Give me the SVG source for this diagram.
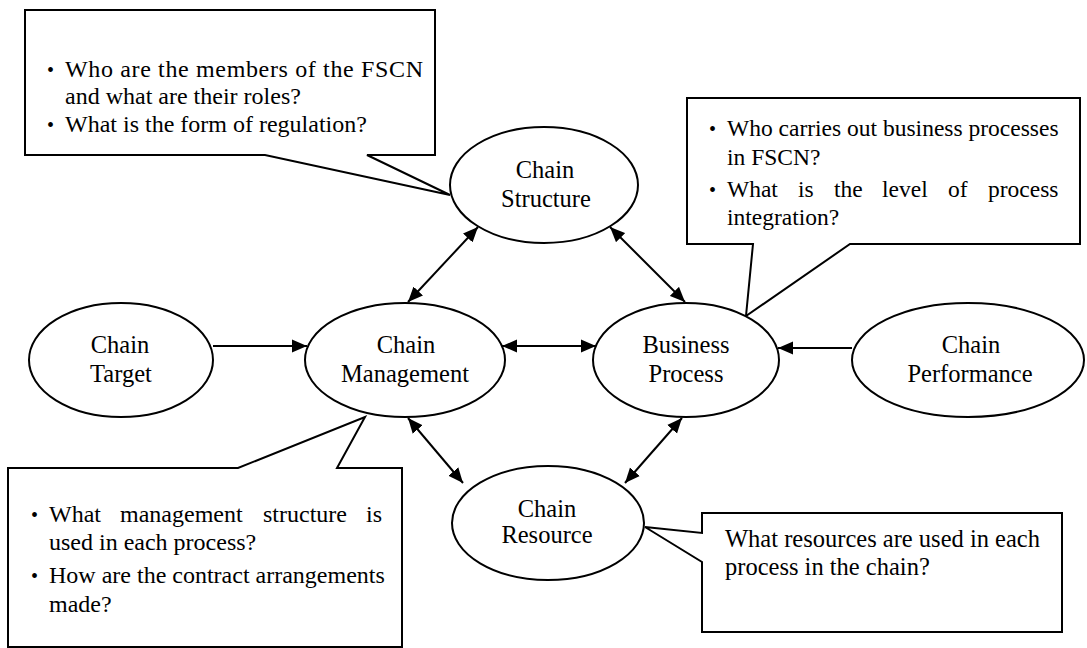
<svg xmlns="http://www.w3.org/2000/svg" width="1087" height="648" viewBox="0 0 1087 648">
<style>
.box{fill:#fff;stroke:#000;stroke-width:2;stroke-linejoin:miter}
.node{fill:#fff;stroke:#000;stroke-width:2}
.t{font-family:"Liberation Serif","Times New Roman",serif;font-size:24px;fill:#000}
.n{font-size:24.5px;text-anchor:middle}
.k2{font-size:23.5px}
.k4{font-size:24.5px}
.b{font-size:20px}
.edge{stroke:#000;stroke-width:2;fill:none}
</style>
<defs>
<marker id="ah" markerUnits="userSpaceOnUse" markerWidth="16" markerHeight="14" refX="15" refY="7" orient="auto-start-reverse">
<path d="M0,0.5 L15,7 L0,13.5 Z" fill="#000"/>
</marker>
</defs>
<g id="callout-structure">
<path class="box" d="M25,10 H435 V155 H367 L450,195 L265,155 H25 Z"/>
<text class="t b" x="47" y="77">•</text>
<text class="t" x="65" y="77" textLength="358" lengthAdjust="spacing">Who are the members of the FSCN</text>
<text class="t" x="65" y="104">and what are their roles?</text>
<text class="t b" x="47" y="132">•</text>
<text class="t" x="65" y="132">What is the form of regulation?</text>
</g>
<g id="callout-process">
<path class="box" d="M687,98 H1080 V244 H850 L746,316 L753,244 H687 Z"/>
<text class="t b" x="709" y="136">•</text>
<text class="t k2" x="727" y="136">Who carries out business processes</text>
<text class="t k2" x="727" y="165">in FSCN?</text>
<text class="t b" x="709" y="197">•</text>
<text class="t k2" y="197"><tspan x="727">What</tspan><tspan x="798">is</tspan><tspan x="834">the</tspan><tspan x="882">level</tspan><tspan x="948">of</tspan><tspan x="988">process</tspan></text>
<text class="t k2" x="727" y="225">integration?</text>
</g>
<g id="callout-management">
<path class="box" d="M8,468 H238 L365,417 L337,468 H402 V647 H8 Z"/>
<text class="t b" x="31" y="522">•</text>
<text class="t" y="522"><tspan x="49">What</tspan><tspan x="120">management</tspan><tspan x="263">structure</tspan><tspan x="366">is</tspan></text>
<text class="t" x="49" y="550">used in each process?</text>
<text class="t b" x="31" y="583">•</text>
<text class="t" x="49" y="583">How are the contract arrangements</text>
<text class="t" x="49" y="612">made?</text>
</g>
<g id="callout-resource">
<path class="box" d="M702,513 H1062 V632 H702 V562 L645,527 L702,533 Z"/>
<text class="t k4" x="725" y="547">What resources are used in each</text>
<text class="t k4" x="725" y="575">process in the chain?</text>
</g>
<g id="connectors">
<line class="edge" x1="478" y1="227" x2="408" y2="302" marker-start="url(#ah)" marker-end="url(#ah)"/>
<line class="edge" x1="610" y1="227" x2="685" y2="302" marker-start="url(#ah)" marker-end="url(#ah)"/>
<line class="edge" x1="502" y1="346" x2="596" y2="346" marker-start="url(#ah)" marker-end="url(#ah)"/>
<line class="edge" x1="213" y1="346" x2="307" y2="346" marker-end="url(#ah)"/>
<line class="edge" x1="852" y1="348" x2="778" y2="348" marker-end="url(#ah)"/>
<line class="edge" x1="408" y1="418" x2="463" y2="483" marker-start="url(#ah)" marker-end="url(#ah)"/>
<line class="edge" x1="625" y1="483" x2="682" y2="418" marker-start="url(#ah)" marker-end="url(#ah)"/>
</g>
<g id="chain-structure">
<ellipse class="node" cx="544" cy="185" rx="94" ry="58"/>
<text class="t n" x="545" y="178">Chain</text>
<text class="t n" x="546" y="207">Structure</text>
</g>
<g id="chain-target">
<ellipse class="node" cx="121" cy="360" rx="92" ry="57"/>
<text class="t n" x="120" y="353">Chain</text>
<text class="t n" x="121" y="382">Target</text>
</g>
<g id="chain-management">
<ellipse class="node" cx="405" cy="360" rx="100" ry="57"/>
<text class="t n" x="406" y="353">Chain</text>
<text class="t n" x="405" y="382">Management</text>
</g>
<g id="business-process">
<ellipse class="node" cx="686" cy="360" rx="93" ry="57"/>
<text class="t n" x="686" y="353">Business</text>
<text class="t n" x="686" y="382">Process</text>
</g>
<g id="chain-performance">
<ellipse class="node" cx="968" cy="360" rx="116" ry="57"/>
<text class="t n" x="971" y="353">Chain</text>
<text class="t n" x="970" y="382">Performance</text>
</g>
<g id="chain-resource">
<ellipse class="node" cx="548" cy="523" rx="96" ry="57"/>
<text class="t n" x="547" y="517">Chain</text>
<text class="t n" x="547" y="543">Resource</text>
</g>
</svg>
